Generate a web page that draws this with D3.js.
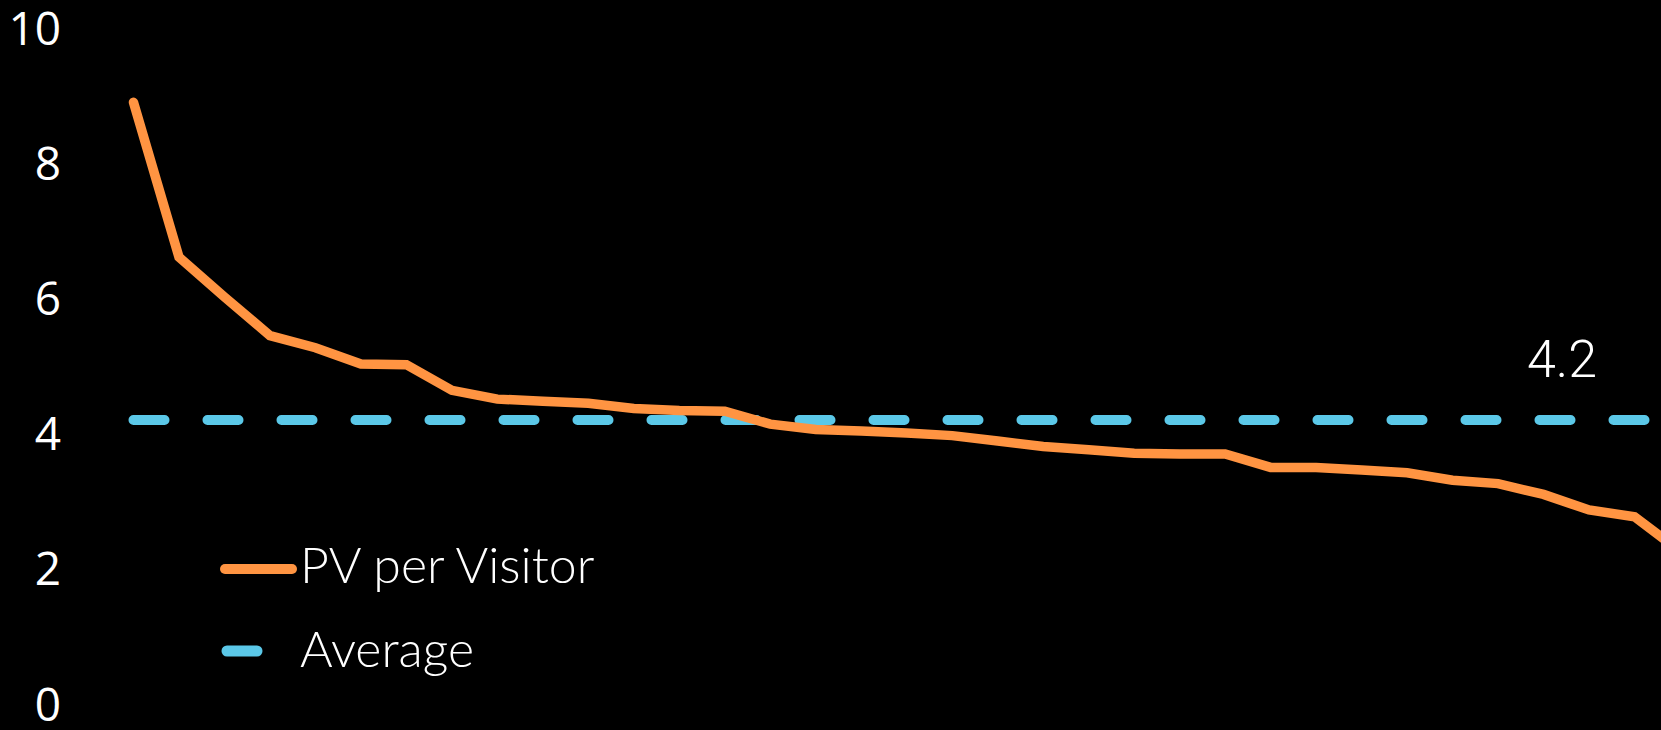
<!DOCTYPE html>
<html>
<head>
<meta charset="utf-8">
<script src="https://d3js.org/d3.v7.min.js"></script>
<style>
  html, body { margin: 0; padding: 0; background: #000; overflow: hidden; }
</style>
</head>
<body>
<div id="chart"></div>
<script>
var pvPerVisitor = [8.90, 6.61, 6.02, 5.45, 5.27, 5.03, 5.02, 4.64, 4.51, 4.48,
  4.45, 4.37, 4.34, 4.33, 4.14, 4.06, 4.04, 4.01, 3.97, 3.89,
  3.81, 3.76, 3.71, 3.70, 3.70, 3.50, 3.50, 3.46, 3.42, 3.31,
  3.26, 3.10, 2.87, 2.77, 2.26];
var average = 4.2;
var yTicks = [0, 2, 4, 6, 8, 10];
var legendLabels = ['PV per Visitor', 'Average'];

var width = 1661, height = 730;

var svg = d3.select('#chart').append('svg')
  .attr('width', width)
  .attr('height', height)
  .style('background', '#000');

var x = d3.scaleLinear().domain([0, pvPerVisitor.length - 1]).range([133.5, 1680]);
var y = d3.scaleLinear().domain([0, 10]).range([704, 28]);

// y axis: labels only
var yAxis = d3.axisLeft(y).tickValues(yTicks).tickSize(0).tickPadding(0);
var gy = svg.append('g')
  .attr('transform', 'translate(61,0)')
  .call(yAxis);
gy.select('.domain').remove();
gy.selectAll('text')
  .attr('fill', '#fff')
  .attr('dy', '0.35em')
  .style('font-family', '"Open Sans", sans-serif')
  .style('font-size', '46px');

// average line
svg.append('line')
  .attr('x1', x(0))
  .attr('x2', x(pvPerVisitor.length - 1))
  .attr('y1', y(average))
  .attr('y2', y(average))
  .attr('stroke', '#5BC8E8')
  .attr('stroke-width', 10)
  .attr('stroke-linecap', 'round')
  .attr('stroke-dasharray', '31 43');

var line = d3.line()
  .x(function(d, i) { return x(i); })
  .y(function(d) { return y(d); });

svg.append('path')
  .datum(pvPerVisitor)
  .attr('d', line)
  .attr('fill', 'none')
  .attr('stroke', '#FF9442')
  .attr('stroke-width', 9.5)
  .attr('stroke-linejoin', 'miter')
  .attr('stroke-linecap', 'round');

svg.append('text')
  .attr('x', 1527)
  .attr('y', 377)
  .attr('fill', '#fff')
  .style('font-family', 'Roboto, "Liberation Sans", sans-serif')
  .style('font-weight', 300)
  .style('font-size', '52px')
  .text(average.toFixed(1));

// legend
var legend = svg.append('g').attr('class', 'legend');
legend.append('line')
  .attr('x1', 225).attr('x2', 292)
  .attr('y1', 569).attr('y2', 569)
  .attr('stroke', '#FF9442')
  .attr('stroke-width', 10)
  .attr('stroke-linecap', 'round');
legend.append('line')
  .attr('x1', 227).attr('x2', 257)
  .attr('y1', 651).attr('y2', 651)
  .attr('stroke', '#5BC8E8')
  .attr('stroke-width', 11)
  .attr('stroke-linecap', 'round');

legend.selectAll('text.label')
  .data(legendLabels)
  .enter().append('text')
  .attr('class', 'label')
  .attr('x', 300)
  .attr('y', function(d, i) { return i === 0 ? 583 : 667; })
  .attr('fill', '#fff')
  .style('font-family', 'Lato, sans-serif')
  .style('font-weight', 300)
  .style('font-size', '50px')
  .text(function(d) { return d; });
</script>
</body>
</html>
